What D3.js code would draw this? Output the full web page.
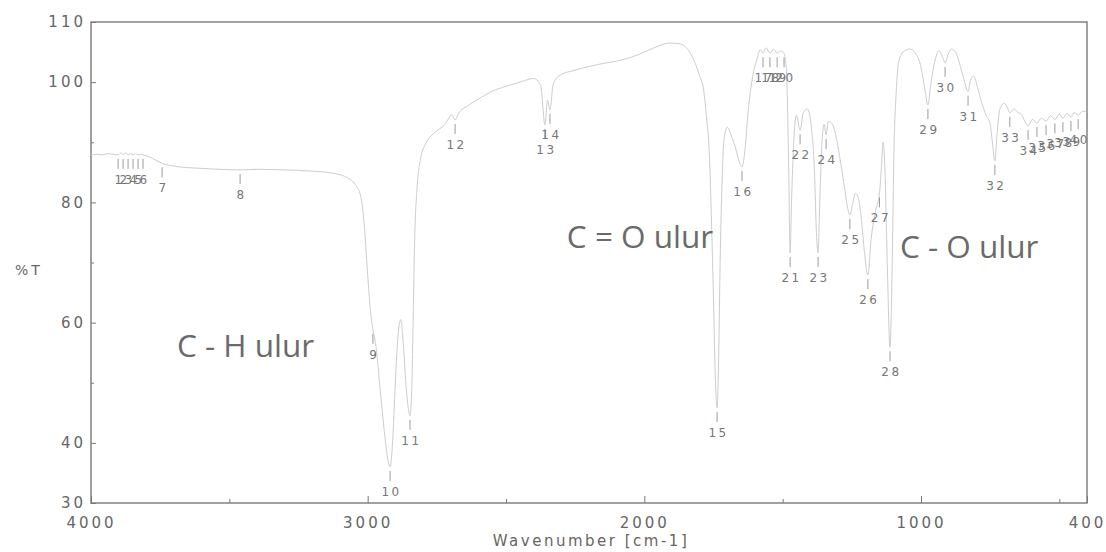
<!DOCTYPE html>
<html><head><meta charset="utf-8">
<script src="https://cdn.jsdelivr.net/npm/d3@7"></script>
<style>body{margin:0;background:#fff;} svg{display:block;}</style>
</head><body>
<svg id="chart" width="1106" height="552"></svg>
<script>
// ---- Data ----
const wavenumbers = [4000,3980,3960,3940,3920,3902,3893,3884,3875,3866,3857,3848,3839,3830,3821,3812,3790,3765,3743,3720,3680,3620,3540,3461,3400,3300,3200,3120,3070,3045,3025,3012,3000,2990,2981,2970,2955,2940,2928,2919,2910,2900,2890,2880,2872,2862,2854,2847,2840,2835,2830,2822,2810,2790,2760,2720,2695,2684,2672,2640,2600,2550,2500,2450,2400,2375,2359,2350,2341,2330,2310,2250,2200,2150,2100,2050,2000,1950,1910,1875,1850,1830,1815,1800,1785,1775,1765,1758,1750,1744,1737,1731,1726,1720,1712,1700,1685,1670,1655,1647,1638,1625,1610,1595,1580,1571,1560,1546,1533,1520,1508,1495,1488,1482,1478,1473,1468,1460,1450,1437,1425,1410,1395,1385,1378,1372,1366,1358,1350,1343,1335,1320,1305,1290,1275,1265,1257,1248,1238,1228,1215,1205,1192,1180,1165,1150,1143,1137,1130,1122,1112,1104,1098,1090,1080,1060,1040,1020,1000,985,975,965,950,935,922,913,903,890,875,860,845,830,820,810,795,780,765,750,742,733,725,715,700,690,679,665,650,635,625,613,597,581,565,548,532,516,500,487,472,458,445,432,415,400];
const transmittance = [87.8,88.0,87.9,88.1,88.0,87.9,88.2,87.9,88.2,87.9,88.1,87.9,88.1,87.9,88.0,87.9,87.6,87.0,86.5,86.2,85.9,85.7,85.5,85.4,85.5,85.4,85.2,84.8,84.0,83.0,81.0,76.0,68.0,62.0,58.8,56.0,49.0,42.0,37.5,36.0,40.0,50.0,58.0,60.5,57.0,50.0,46.0,44.5,50.0,62.0,74.0,82.0,87.0,89.8,91.5,93.0,94.6,93.7,94.8,96.0,97.2,98.5,99.3,100.0,100.6,99.5,92.9,97.0,95.4,99.5,101.0,102.0,102.6,103.1,103.5,104.1,105.0,106.0,106.5,106.4,105.8,104.5,103.0,101.0,98.5,94.0,88.0,78.0,64.0,52.0,45.8,55.0,70.0,82.0,90.5,92.5,91.0,89.0,86.5,85.9,88.0,95.0,100.5,103.5,105.4,104.8,105.7,104.8,105.5,104.8,105.2,104.8,103.0,95.0,85.0,71.6,80.0,90.0,94.5,92.0,95.0,95.5,92.0,85.0,75.0,71.6,80.0,90.0,93.0,91.2,93.5,93.0,90.5,86.5,82.0,79.0,77.9,79.5,81.5,81.0,77.0,72.0,67.9,74.0,78.5,81.5,86.0,90.0,85.0,70.0,55.9,70.0,88.0,98.0,103.5,105.2,105.5,104.8,102.5,98.5,96.2,99.5,103.5,105.2,104.2,103.2,104.5,105.5,105.0,103.0,100.5,98.4,100.5,101.0,99.0,96.5,94.5,93.0,90.0,86.9,91.5,95.5,96.5,96.0,94.9,95.5,95.0,94.5,93.5,92.7,93.8,93.2,94.0,93.5,94.4,93.8,94.7,94.0,94.8,94.2,95.0,94.5,95.2,95.0];

const peakNumbers = [1,2,3,4,5,6,7,8,9,10,11,12,13,14,15,16,17,18,19,20,21,22,23,24,25,26,27,28,29,30,31,32,33,34,35,36,37,38,39,40];
const peakWavenumbers = [3902,3884,3866,3848,3830,3812,3743,3461,2981,2919,2847,2684,2359,2341,1737,1647,1571,1546,1520,1495,1473,1437,1372,1343,1257,1192,1150,1112,975,913,830,733,679,613,581,548,516,487,458,432];
const peakTransmittance = [87.9,87.9,87.9,87.9,87.9,87.9,86.5,85.4,58.8,36.0,44.5,93.7,92.9,95.4,45.8,85.9,104.8,104.8,104.8,104.8,71.6,92.0,71.6,91.2,77.9,67.9,81.5,55.9,96.2,103.2,98.4,86.9,94.9,92.7,93.2,93.5,93.8,94.0,94.2,94.5];

const xMajorTicks = [4000, 3000, 2000, 1000, 400];
const xMinorTicks = [3500, 2500, 1500, 500];
const yMajorTicks = [110, 100, 80, 60, 40, 30];
const yMinorTicks = [90, 70, 50];

const annotationTexts = ["C - H ulur", "C = O ulur", "C - O ulur"];
const annotationWavenumbers = [3689, 2280, 1076];
const annotationTransmittance = [54.3, 72.4, 70.7];

const xTitle = "Wavenumber [cm-1]";
const yTitle = "%T";

// ---- Drawing ----
(function () {
const svg = d3.select("#chart");
const L = 91, R = 1087, T0 = 22, B = 503;
const x = d3.scaleLinear().domain([4000, 400]).range([L, R]);
const y = d3.scaleLinear().domain([30, 110]).range([B, T0]);
const tickFont = "DejaVu Sans, sans-serif";
const axisColor = "#7a7a7a";

svg.append("rect").attr("x", L).attr("y", T0).attr("width", R - L).attr("height", B - T0)
  .attr("fill", "none").attr("stroke", axisColor).attr("stroke-width", 1.4);

const gx = svg.append("g").attr("transform", `translate(0,${B})`)
  .call(d3.axisBottom(x).tickValues(xMajorTicks).tickFormat(d3.format("d")).tickSizeInner(-7).tickSizeOuter(0).tickPadding(14));
gx.select(".domain").remove();
gx.selectAll("line").attr("stroke", axisColor);
gx.selectAll("text").attr("font-family", tickFont).attr("font-size", 15).attr("letter-spacing", 3).attr("fill", "#666");
const gxm = svg.append("g").attr("transform", `translate(0,${B})`)
  .call(d3.axisBottom(x).tickValues(xMinorTicks).tickFormat("").tickSizeInner(-4).tickSizeOuter(0));
gxm.select(".domain").remove();
gxm.selectAll("line").attr("stroke", axisColor);

const gy = svg.append("g").attr("transform", `translate(${L},0)`)
  .call(d3.axisLeft(y).tickValues(yMajorTicks).tickFormat(d3.format("d")).tickSizeInner(-5).tickSizeOuter(0).tickPadding(5));
gy.select(".domain").remove();
gy.selectAll("line").attr("stroke", axisColor);
gy.selectAll("text").attr("font-family", tickFont).attr("font-size", 15).attr("letter-spacing", 3).attr("fill", "#666");
const gym = svg.append("g").attr("transform", `translate(${L},0)`)
  .call(d3.axisLeft(y).tickValues(yMinorTicks).tickFormat("").tickSizeInner(-3).tickSizeOuter(0));
gym.select(".domain").remove();
gym.selectAll("line").attr("stroke", axisColor);

svg.append("text").attr("x", 591).attr("y", 546).attr("text-anchor", "middle")
  .attr("font-family", tickFont).attr("font-size", 15).attr("letter-spacing", 2.5).attr("fill", "#666").text(xTitle);
svg.append("text").attr("x", 29).attr("y", 275).attr("text-anchor", "middle")
  .attr("font-family", tickFont).attr("font-size", 14).attr("letter-spacing", 3).attr("fill", "#666").text(yTitle);

const pts = wavenumbers.map((w, i) => [w, transmittance[i]]);
svg.append("path").datum(pts)
  .attr("d", d3.line().x(d => x(d[0])).y(d => y(d[1])).curve(d3.curveMonotoneX))
  .attr("fill", "none").attr("stroke", "#cdcdcd").attr("stroke-width", 1);

const peaks = peakNumbers.map((n, i) => ({n, w: peakWavenumbers[i], t: peakTransmittance[i]}));
const pg = svg.append("g");
pg.selectAll("line").data(peaks).join("line")
  .attr("x1", d => x(d.w)).attr("x2", d => x(d.w))
  .attr("y1", d => y(d.t) + 4).attr("y2", d => y(d.t) + 14)
  .attr("stroke", "#9c9c9c").attr("stroke-width", 1);
pg.selectAll("text").data(peaks).join("text")
  .attr("x", d => x(d.w) + 1.5).attr("y", d => y(d.t) + 29).attr("text-anchor", "middle")
  .attr("font-family", tickFont).attr("font-size", 12).attr("letter-spacing", 2.5).attr("fill", "#777")
  .text(d => d.n);

svg.append("g").selectAll("text").data(annotationTexts).join("text")
  .attr("x", (d, i) => x(annotationWavenumbers[i]))
  .attr("y", (d, i) => y(annotationTransmittance[i]))
  .attr("font-family", "Open Sans, sans-serif").attr("font-size", 31.5).attr("fill", "#6a6a6a")
  .text(d => d);
})();
</script>
</body></html>
